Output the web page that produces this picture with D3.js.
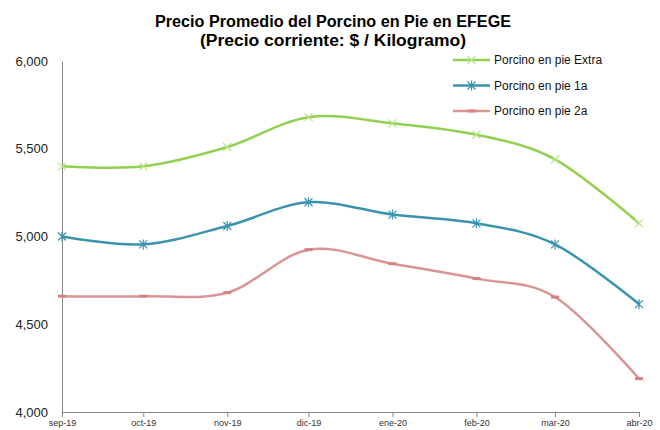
<!DOCTYPE html>
<html>
<head>
<meta charset="utf-8">
<script src="https://cdn.jsdelivr.net/npm/d3@7"></script>
<style>
body { margin: 0; background: #fff; }
svg { font-family: "Liberation Sans", Arial, sans-serif; }
</style>
</head>
<body>
<div id="chart"></div>
<script>
var months = ["2019-09-01", "2019-10-01", "2019-11-01", "2019-12-01", "2020-01-01", "2020-02-01", "2020-03-01", "2020-04-01"];
var monthLabels = ["sep-19", "oct-19", "nov-19", "dic-19", "ene-20", "feb-20", "mar-20", "abr-20"];
var extra = [5400, 5400, 5510, 5680, 5645, 5580, 5440, 5075];
var primera = [5000, 4955, 5060, 5195, 5125, 5075, 4955, 4615];
var segunda = [4660, 4660, 4680, 4925, 4845, 4760, 4655, 4190];
var seriesNames = ["Porcino en pie Extra", "Porcino en pie 1a", "Porcino en pie 2a"];
var yTicks = [4000, 4500, 5000, 5500, 6000];

var width = 660, height = 430;
var plotLeft = 62, plotRight = 639, plotTop = 61, plotBottom = 412;
var colors = ["#92d050", "#3b93ad", "#d99594"];
var markerColors = ["#b6e68a", "#3b93ad", "#d98080"];

var parse = d3.timeParse("%Y-%m-%d");
var dates = months.map(parse);
var series = [extra, primera, segunda];

var svg = d3.select("#chart").append("svg")
    .attr("width", width)
    .attr("height", height);

var x = d3.scaleTime()
    .domain([dates[0], dates[dates.length - 1]])
    .range([plotLeft, plotRight]);

var y = d3.scaleLinear()
    .domain([4000, 6000])
    .range([plotBottom, plotTop]);

// title
svg.append("text")
    .attr("x", 333).attr("y", 27)
    .attr("text-anchor", "middle")
    .style("font-weight", "bold").style("font-size", "16px")
    .attr("textLength", 356).attr("lengthAdjust", "spacingAndGlyphs")
    .text("Precio Promedio del Porcino en Pie en EFEGE");
svg.append("text")
    .attr("x", 333).attr("y", 46)
    .attr("text-anchor", "middle")
    .style("font-weight", "bold").style("font-size", "16px")
    .attr("textLength", 266).attr("lengthAdjust", "spacingAndGlyphs")
    .text("(Precio corriente: $ / Kilogramo)");

// y axis
var yAxis = svg.append("g")
    .attr("transform", "translate(" + plotLeft + ",0)")
    .call(d3.axisLeft(y).tickValues(yTicks).tickSize(0).tickPadding(14).tickFormat(d3.format(",")));
yAxis.select(".domain").attr("stroke", "#868686");
yAxis.selectAll("text").style("font-size", "13px").attr("fill", "#222");

// x axis
var xAxis = svg.append("g")
    .attr("transform", "translate(0," + plotBottom + ")")
    .call(d3.axisBottom(x).tickValues(dates).tickSize(5).tickSizeOuter(0).tickPadding(3)
        .tickFormat(function(d, i) { return monthLabels[i]; }));
xAxis.select(".domain").attr("stroke", "#868686");
xAxis.selectAll("line").attr("stroke", "#868686");
xAxis.selectAll("text").style("font-size", "9px").attr("fill", "#333");

var line = d3.line()
    .x(function(d, i) { return x(dates[i]); })
    .y(function(d) { return y(d); })
    .curve(d3.curveCatmullRom.alpha(0));

function marker(g, k, cx, cy) {
    var c = markerColors[k];
    if (k === 0) {
        g.append("path").attr("d", "M" + (cx - 4) + "," + (cy - 4) + "L" + (cx + 4) + "," + (cy + 4) + "M" + (cx - 4) + "," + (cy + 4) + "L" + (cx + 4) + "," + (cy - 4))
            .attr("stroke", c).attr("stroke-width", 1.2).attr("fill", "none");
    } else if (k === 1) {
        g.append("path").attr("d", "M" + (cx - 4) + "," + (cy - 4) + "L" + (cx + 4) + "," + (cy + 4) + "M" + (cx - 4) + "," + (cy + 4) + "L" + (cx + 4) + "," + (cy - 4) + "M" + cx + "," + (cy - 5) + "L" + cx + "," + (cy + 5))
            .attr("stroke", c).attr("stroke-width", 1.2).attr("fill", "none");
    } else {
        g.append("path").attr("d", "M" + (cx - 4) + "," + cy + "L" + (cx + 4) + "," + cy)
            .attr("stroke", c).attr("stroke-width", 3).attr("fill", "none");
    }
}

series.forEach(function(vals, k) {
    var g = svg.append("g");
    g.append("path")
        .datum(vals)
        .attr("d", line)
        .attr("fill", "none")
        .attr("stroke", colors[k])
        .attr("stroke-width", 2.5);
    vals.forEach(function(v, i) {
        marker(g, k, x(dates[i]), y(v));
    });
});

// legend
var legend = svg.append("g");
seriesNames.forEach(function(name, k) {
    var ly = 60 + k * 25.5;
    legend.append("line")
        .attr("x1", 453).attr("x2", 490)
        .attr("y1", ly).attr("y2", ly)
        .attr("stroke", colors[k]).attr("stroke-width", 2.5);
    marker(legend, k, 471.5, ly);
    legend.append("text")
        .attr("x", 494).attr("y", ly + 4)
        .style("font-size", "12px")
        .attr("fill", "#111")
        .text(name);
});
</script>
</body>
</html>
